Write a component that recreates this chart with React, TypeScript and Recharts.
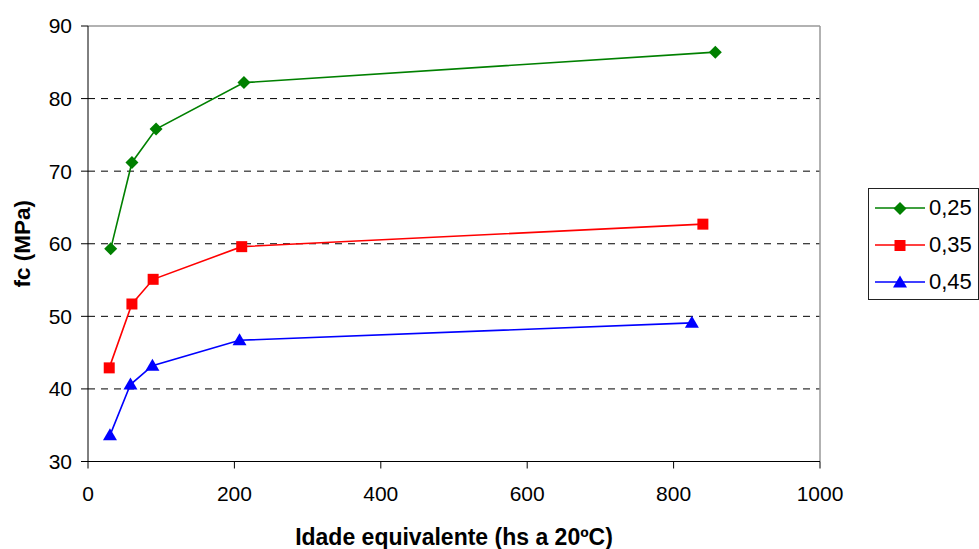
import {
  CartesianGrid,
  Legend,
  Line,
  LineChart,
  ReferenceLine,
  XAxis,
  YAxis,
} from 'recharts'

// idade equivalente (hs a 20ºC) x fc (MPa), one list per a/c ratio
const age025 = [31, 60, 93, 213, 857]
const fc025 = [59.3, 71.2, 75.8, 82.2, 86.4]
const age035 = [29, 60, 89, 210, 840]
const fc035 = [42.9, 51.7, 55.1, 59.6, 62.7]
const age045 = [30, 58, 88, 207, 825]
const fc045 = [33.6, 40.6, 43.2, 46.7, 49.1]

const xTicks = [0, 200, 400, 600, 800, 1000]
const yTicks = [30, 40, 50, 60, 70, 80, 90]
const gridValues = [40, 50, 60, 70, 80]

const FONT = '"Liberation Sans", Arial, sans-serif'

const toRows = (ages: number[], vals: number[]) => ages.map((x, i) => ({ x, y: vals[i] }))

const series = [
  { name: '0,25', color: '#008000', shape: 'diamond', data: toRows(age025, fc025) },
  { name: '0,35', color: '#ff0000', shape: 'square', data: toRows(age035, fc035) },
  { name: '0,45', color: '#0000ff', shape: 'triangle', data: toRows(age045, fc045) },
]

function markerPath(shape: string, cx: number, cy: number) {
  if (shape === 'diamond') {
    const r = 6.5
    return `M${cx},${cy - r}L${cx + r},${cy}L${cx},${cy + r}L${cx - r},${cy}Z`
  }
  if (shape === 'square') {
    const r = 5.5
    return `M${cx - r},${cy - r}H${cx + r}V${cy + r}H${cx - r}Z`
  }
  return `M${cx},${cy - 7}L${cx + 7},${cy + 5}L${cx - 7},${cy + 5}Z`
}

function LegendBox() {
  return (
    <div
      style={{
        width: 109,
        height: 110,
        border: '1px solid #222',
        background: '#fff',
        fontFamily: FONT,
        fontSize: 22,
        color: '#000',
      }}
    >
      {series.map((s, i) => (
        <div key={s.name} style={{ position: 'absolute', left: 7, top: 7 + i * 37, height: 26, display: 'flex', alignItems: 'center' }}>
          <svg width={52} height={16}>
            <line x1={0} y1={8} x2={50} y2={8} stroke={s.color} strokeWidth={1.5} />
            <path d={markerPath(s.shape, 25, 8.5)} fill={s.color} />
          </svg>
          <span style={{ marginLeft: 2 }}>{s.name}</span>
        </div>
      ))}
    </div>
  )
}

export default function App() {
  return (
    <div style={{ width: 979, height: 549, background: '#fff' }}>
      <style>{'body{margin:0}'}</style>
      <LineChart width={979} height={549} margin={{ top: 26, right: 159, bottom: 27.5, left: 28 }}>
        <CartesianGrid
          vertical={false}
          horizontalValues={gridValues}
          stroke="#000"
          strokeDasharray="7 6"
        />
        <XAxis
          type="number"
          dataKey="x"
          domain={[0, 1000]}
          ticks={xTicks}
          height={60}
          stroke="#000"
          tickSize={7}
          tickMargin={18}
          tick={{ fill: '#000', fontSize: 21, fontFamily: FONT }}
          label={{
            content: ({ viewBox }: any) => (
              <text
                x={viewBox.x + viewBox.width / 2}
                y={545}
                textAnchor="middle"
                fontFamily={FONT}
                fontSize={23}
                fontWeight="bold"
                fill="#000"
              >
                Idade equivalente (hs a 20ºC)
              </text>
            ),
          }}
        />
        <YAxis
          type="number"
          domain={[30, 90]}
          ticks={yTicks}
          width={60}
          stroke="#000"
          tickSize={7}
          tickMargin={9}
          tick={{ fill: '#000', fontSize: 21, fontFamily: FONT }}
          label={{
            content: ({ viewBox }: any) => {
              const cx = 30
              const cy = viewBox.y + viewBox.height / 2
              return (
                <text
                  x={cx}
                  y={cy}
                  transform={`rotate(-90 ${cx} ${cy})`}
                  textAnchor="middle"
                  fontFamily={FONT}
                  fontSize={22.5}
                  fontWeight="bold"
                  fill="#000"
                >
                  fc (MPa)
                </text>
              )
            },
          }}
        />
        <ReferenceLine y={90} stroke="#999" strokeWidth={1.5} />
        <ReferenceLine x={1000} stroke="#999" strokeWidth={1.5} />
        {series.map((s) => (
          <Line
            key={s.name}
            data={s.data}
            dataKey="y"
            name={s.name}
            type="linear"
            stroke={s.color}
            strokeWidth={1.6}
            isAnimationActive={false}
            dot={({ cx, cy, index }: any) => (
              <path key={index} d={markerPath(s.shape, cx, cy)} fill={s.color} />
            )}
          />
        ))}
        <Legend
          layout="vertical"
          align="center"
          verticalAlign="middle"
          content={() => <LegendBox />}
          wrapperStyle={{ left: 868, top: 188, width: 111, height: 112 }}
        />
      </LineChart>
    </div>
  )
}
